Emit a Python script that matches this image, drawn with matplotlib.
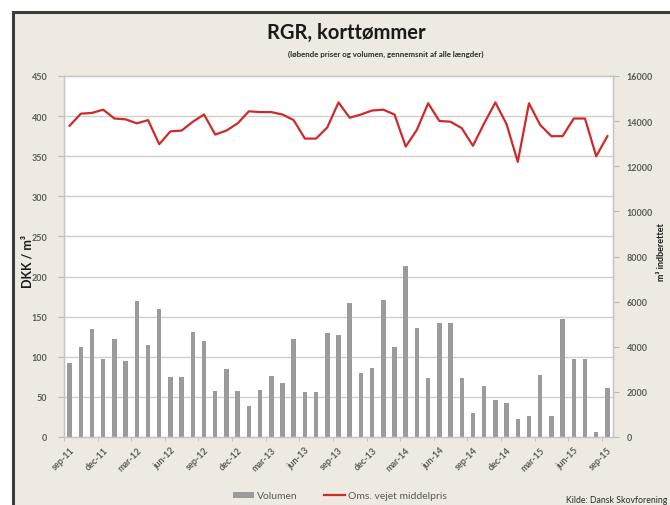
import numpy as np
import matplotlib
matplotlib.use("Agg")
import matplotlib.pyplot as plt
from matplotlib.patches import Rectangle, Patch
from matplotlib.lines import Line2D

# Monthly data, sep-11 .. sep-15 (49 months)
volume_m3 = [
    3290, 3970, 4770, 3435, 4355, 3380, 6030, 4060, 5660, 2680,
    2680, 4650, 4235, 2030, 3020, 2030, 1365, 2100, 2725, 2400,
    4355, 2010, 2010, 4610, 4500, 5955, 2845, 3050, 6090, 3970,
    7570, 4845, 2610, 5065, 5065, 2610, 1065, 2255, 1660, 1510,
    800, 945, 2755, 920, 5215, 3465, 3465, 235, 2165,
]
price_dkk = [
    388, 403, 404, 408, 397, 396, 391, 395, 365, 381,
    382, 393, 402, 377, 382, 391, 406, 405, 405, 402,
    395, 372, 372, 386, 417, 398, 402, 407, 408, 402,
    362, 383, 416, 394, 393, 385, 363, 391, 417, 390,
    343, 416, 389, 375, 375, 397, 397, 350, 375,
]
tick_labels = [
    "sep-11", "dec-11", "mar-12", "jun-12", "sep-12", "dec-12",
    "mar-13", "jun-13", "sep-13", "dec-13", "mar-14", "jun-14",
    "sep-14", "dec-14", "mar-15", "jun-15", "sep-15",
]

BG = "#eeeae1"
TXT = "#5a5a5a"
FONT = ["Lato", "DejaVu Sans"]
plt.rcParams["font.family"] = FONT

W, H = 670, 506
fig = plt.figure(figsize=(W / 100, H / 100), dpi=100, facecolor="white")

# outer chart frame (cropped at right and bottom)
fig.patches.append(Rectangle((13 / W, -0.1), 1.2, 1.1 - 13 / H, transform=fig.transFigure,
                             facecolor=BG, edgecolor="#3c3c3c", lw=2.2, zorder=-5))

ax2 = fig.add_axes([64 / W, 1 - 438 / H, (613 - 64) / W, (438 - 77) / H])
ax = ax2.twinx()
ax.set_zorder(ax2.get_zorder() + 1)
ax.patch.set_visible(False)
ax2.set_facecolor("white")

x = np.arange(len(volume_m3))
ax2.bar(x, volume_m3, width=0.4, color="#9b9b9b", zorder=2)
ax.plot(x, price_dkk, color="#cf2a2a", lw=1.6, zorder=3)

# price axis on the left, volume axis on the right
ax.yaxis.tick_left()
ax.yaxis.set_label_position("left")
ax2.yaxis.tick_right()

ax.set_ylim(0, 450)
ax.set_yticks(np.arange(0, 451, 50))
ax2.set_ylim(0, 16000)
ax2.set_yticks(np.arange(0, 16001, 2000))
ax2.set_yticklabels([f"{v:d}" for v in range(0, 16001, 2000)])
ax2.set_xlim(-0.45, len(x) - 0.5)

# gridlines follow the left (price) ticks, but sit behind the bars
ax2.set_yticks(np.linspace(0, 16000, 10), minor=True)
ax2.tick_params(axis="y", which="minor", length=0)
ax2.grid(axis="y", which="minor", color="#d0d0d0", lw=1.0, zorder=0)
ax2.set_axisbelow(True)

ax2.set_xticks(np.arange(0, len(x), 3))
ax2.set_xticklabels(tick_labels, rotation=45, ha="right", rotation_mode="anchor",
                    fontweight="bold")
ax2.set_xticks(np.arange(-0.5, len(x), 3), minor=True)
ax2.tick_params(axis="x", which="major", length=0, pad=6, labelsize=6.5, labelcolor=TXT)
ax2.tick_params(axis="x", which="minor", length=3, color="#bbbbbb")

ax.tick_params(axis="y", length=4, color="#bbbbbb", labelsize=6.5, labelcolor=TXT, pad=8)
ax2.tick_params(axis="y", which="major", length=4, color="#bbbbbb", labelsize=6.5,
                labelcolor=TXT, pad=6)
for lbl in ax.get_yticklabels() + ax2.get_yticklabels():
    lbl.set_fontweight("bold")

for a in (ax, ax2):
    for s in a.spines.values():
        s.set_color("#c4c4c4")
        s.set_linewidth(0.9)

fig.text(346 / W, 1 - 33 / H, "RGR, korttømmer", ha="center", va="center",
         fontsize=14.5, fontweight="bold", color="#1a1a1a")
fig.text(386 / W, 1 - 54 / H, "(løbende priser og volumen, gennemsnit af alle længder)",
         ha="center", va="center", fontsize=5.7, fontweight="bold", color="#2a2a2a")

fig.text(27 / W, 1 - 262 / H, "DKK / m³", rotation=90, ha="center", va="center",
         fontsize=9, fontweight="bold", color="#1a1a1a")
fig.text(662 / W, 1 - 252 / H, "m³ indberettet", rotation=90, ha="center", va="center",
         fontsize=6.5, fontweight="bold", color="#1a1a1a")

handles = [Patch(facecolor="#9b9b9b"), Line2D([], [], color="#cf2a2a", lw=1.6)]
fig.legend(handles, ["Volumen", "Oms. vejet middelpris"], loc="center",
           bbox_to_anchor=(340 / W, 1 - 497 / H), ncol=2, frameon=False,
           fontsize=7.5, labelcolor=TXT, handlelength=2.0, handleheight=0.5,
           columnspacing=2.5, handletextpad=0.3)

fig.text(667 / W, 1 - 501 / H, "Kilde: Dansk Skovforening", ha="right", va="center",
         fontsize=6.3, color="#2a2a2a")

fig.savefig("out.png", dpi=100, facecolor="white")
